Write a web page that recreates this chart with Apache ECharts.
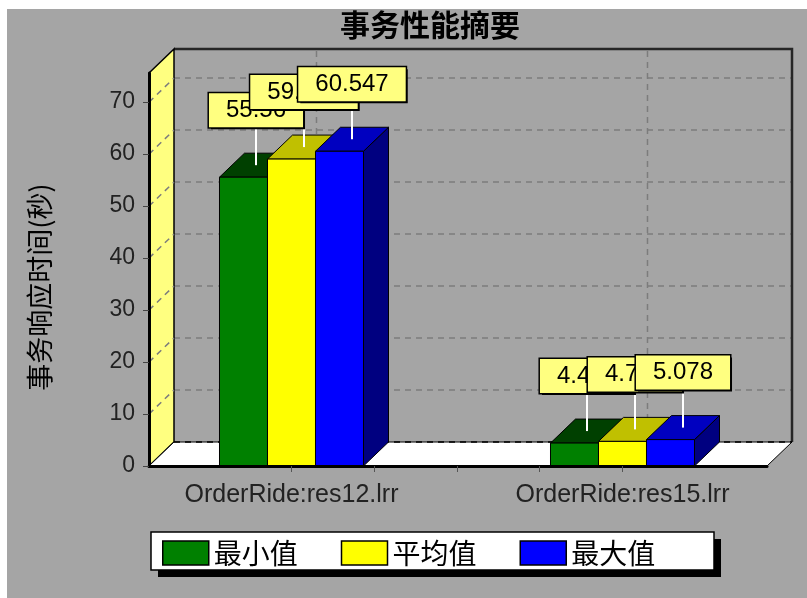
<!DOCTYPE html>
<html>
<head>
<meta charset="utf-8">
<script src="https://cdn.jsdelivr.net/npm/echarts@6/dist/echarts.min.js"></script>
<style>
  html, body { margin: 0; padding: 0; background: #ffffff; }
  #chart { width: 807px; height: 598px; }
</style>
</head>
<body>
<div id="chart"></div>
<script>
// Transaction summary data (seconds)
const categories = ['OrderRide:res12.lrr', 'OrderRide:res15.lrr'];
const minValues = [55.56, 4.412];
const avgValues = [59.043, 4.735];
const maxValues = [60.547, 5.078];
const seriesNames = ['最小值', '平均值', '最大值'];
const yTickValues = [0, 10, 20, 30, 40, 50, 60, 70];
const xTickValues = [0, 0.25, 0.5, 0.75, 1];

// 3D look: depth offset of the back plane, bar width in px
const DEPTH_X = 25;
const DEPTH_Y = -24;
const BAR_W = 48;
const X_MIN = -0.4305;
const X_MAX = 1.4366;
const Y_MAX = 75.6;

const BG = '#a5a5a5';
const WALL = '#ffff80';
const GRID_DASH = '#7c7c7c';

// legend box
const LEGEND_BOX = { x: 151, y: 532, width: 563, height: 38, shadow: 7 };

const faceColors = [
  { front: '#008000', top: '#004000', side: '#003000' },
  { front: '#ffff00', top: '#c0c000', side: '#808000' },
  { front: '#0000ff', top: '#0000c0', side: '#000080' }
];

const valueSets = [minValues, avgValues, maxValues];

function barRenderer(k) {
  return function (params, api) {
    const base = api.coord([api.value(0), 0]);
    const top = api.coord([api.value(0), api.value(1)]);
    const x0 = base[0] + (k - 1.5) * BAR_W;
    const x1 = x0 + BAR_W;
    const yb = base[1];
    const yt = top[1];
    const dx = DEPTH_X, dy = DEPTH_Y;
    const col = faceColors[k];
    const edge = { stroke: '#000', lineWidth: 1 };
    const cx = (x0 + x1) / 2 + dx / 2;
    const cy = yt + dy / 2;
    const boxBottom = cy - 38;
    const text = String(api.value(1));
    const labelFont = { fontSize: 24, fontFamily: '"Liberation Sans", Arial, sans-serif', lineHeight: 24 };
    return {
      type: 'group',
      children: [
        { type: 'polygon', shape: { points: [[x1, yt], [x1 + dx, yt + dy], [x1 + dx, yb + dy], [x1, yb]] },
          style: Object.assign({ fill: col.side }, edge) },
        { type: 'polygon', shape: { points: [[x0, yt], [x1, yt], [x1 + dx, yt + dy], [x0 + dx, yt + dy]] },
          style: Object.assign({ fill: col.top }, edge) },
        { type: 'rect', shape: { x: x0, y: yt, width: BAR_W, height: yb - yt },
          style: Object.assign({ fill: col.front }, edge) },
        { type: 'line', z2: 50, shape: { x1: cx, y1: cy, x2: cx, y2: boxBottom },
          style: { stroke: '#ffffff', lineWidth: 2 } },
        { type: 'text', z2: 60 + k * 2,
          style: Object.assign({ text: text, x: cx + 2, y: boxBottom + 2, align: 'center', verticalAlign: 'bottom',
            fill: 'rgba(0,0,0,0)', backgroundColor: '#000', padding: [5, 17, 5, 17] }, labelFont) },
        { type: 'text', z2: 61 + k * 2,
          style: Object.assign({ text: text, x: cx, y: boxBottom, align: 'center', verticalAlign: 'bottom',
            fill: '#000', backgroundColor: WALL, borderColor: '#000', borderWidth: 1.5,
            padding: [5, 17, 5, 17] }, labelFont) }
      ]
    };
  };
}

// walls, floor and dashed grid of the 3D box
function frameRenderer(params, api) {
  const f = (x, v) => api.coord([x, v]);
  const b = (x, v) => { const p = api.coord([x, v]); return [p[0] + DEPTH_X, p[1] + DEPTH_Y]; };
  const dash = { stroke: GRID_DASH, lineWidth: 1.5, lineDash: [6, 5] };
  const children = [];

  yTickValues.slice(1).forEach(v => {
    const p = b(X_MIN, v), q = b(X_MAX, v);
    children.push({ type: 'line', shape: { x1: p[0], y1: p[1], x2: q[0], y2: q[1] }, style: dash });
  });
  categories.forEach((c, i) => {
    const p = b(i, 0), q = b(i, Y_MAX);
    children.push({ type: 'line', shape: { x1: p[0], y1: p[1], x2: q[0], y2: q[1] }, style: dash });
  });

  // back wall outline (top and right)
  const bl = b(X_MIN, Y_MAX), br = b(X_MAX, Y_MAX), br0 = b(X_MAX, 0);
  children.push({ type: 'polyline', shape: { points: [bl, br, br0] },
    style: { stroke: '#262626', lineWidth: 2.5, fill: null } });

  // left wall
  children.push({ type: 'polygon',
    shape: { points: [f(X_MIN, Y_MAX), b(X_MIN, Y_MAX), b(X_MIN, 0), f(X_MIN, 0)] },
    style: { fill: WALL, stroke: '#000', lineWidth: 1.5 } });
  yTickValues.slice(1).forEach(v => {
    const p = f(X_MIN, v), q = b(X_MIN, v);
    children.push({ type: 'line', shape: { x1: p[0], y1: p[1], x2: q[0], y2: q[1] }, style: dash });
  });

  // floor
  children.push({ type: 'polygon',
    shape: { points: [f(X_MIN, 0), f(X_MAX, 0), b(X_MAX, 0), b(X_MIN, 0)] },
    style: { fill: '#ffffff', stroke: '#000', lineWidth: 1 } });
  const fb0 = b(X_MIN, 0), fb1 = b(X_MAX, 0);
  children.push({ type: 'line', shape: { x1: fb0[0], y1: fb0[1], x2: fb1[0], y2: fb1[1] },
    style: { stroke: '#000', lineWidth: 1.5, lineDash: [6, 5] } });

  return { type: 'group', children: children };
}

const chart = echarts.init(document.getElementById('chart'), null, { renderer: 'canvas' });

const series = [{
  type: 'custom',
  name: 'frame',
  z: 1,
  silent: true,
  clip: false,
  data: [[0, 0]],
  renderItem: frameRenderer
}];

seriesNames.forEach((name, k) => {
  series.push({
    type: 'custom',
    name: name,
    z: 2,
    clip: false,
    itemStyle: { color: faceColors[k].front },
    encode: { x: 0, y: 1 },
    data: valueSets[k].map((v, i) => [i, v]),
    renderItem: barRenderer(k)
  });
});

chart.setOption({
  backgroundColor: '#ffffff',
  animation: false,
  title: {
    text: '事务性能摘要',
    left: 425,
    top: 5,
    textAlign: 'center',
    textStyle: { fontSize: 30, fontWeight: 'bold', fontFamily: '"Noto Sans CJK SC"', color: '#000' }
  },
  graphic: [
    { type: 'rect', z: -10, silent: true, shape: { x: 7, y: 9, width: 800, height: 589 }, style: { fill: BG } },
    { type: 'rect', z: -9, silent: true,
      shape: { x: LEGEND_BOX.x + LEGEND_BOX.shadow, y: LEGEND_BOX.y + LEGEND_BOX.shadow,
        width: LEGEND_BOX.width, height: LEGEND_BOX.height },
      style: { fill: '#000' } },
    { type: 'rect', z: -8, silent: true,
      shape: { x: LEGEND_BOX.x, y: LEGEND_BOX.y, width: LEGEND_BOX.width, height: LEGEND_BOX.height },
      style: { fill: '#ffffff', stroke: '#000', lineWidth: 1.5 } },
    { type: 'text', z: 10, x: 40, y: 287, rotation: Math.PI / 2, silent: true,
      style: { text: '事务响应时间(秒)', fontSize: 27, fontFamily: '"Noto Sans CJK SC"', fill: '#000',
        align: 'center', verticalAlign: 'middle' } }
  ],
  legend: {
    data: seriesNames,
    left: LEGEND_BOX.x,
    top: LEGEND_BOX.y,
    icon: 'rect',
    itemWidth: 46,
    itemHeight: 24,
    itemGap: 43,
    selectedMode: false,
    padding: [7, 61, 7, 11],
    itemStyle: { borderColor: '#000', borderWidth: 1.5 },
    textStyle: { fontSize: 28, lineHeight: 24, fontFamily: '"Noto Sans CJK SC"', color: '#000' }
  },
  grid: { left: 149, right: 40, top: 73, bottom: 132 },
  xAxis: {
    type: 'value',
    min: X_MIN,
    max: X_MAX,
    z: 5,
    axisLine: { show: true, onZero: false, lineStyle: { color: '#000', width: 3 } },
    axisTick: { show: true, customValues: xTickValues, length: 6, lineStyle: { color: '#555' } },
    axisLabel: {
      customValues: [0, 1],
      formatter: v => categories[Math.round(v)],
      fontSize: 25,
      fontFamily: '"Liberation Sans", Arial, sans-serif',
      color: '#222',
      margin: 17
    },
    splitLine: { show: false }
  },
  yAxis: {
    type: 'value',
    min: 0,
    max: Y_MAX,
    z: 5,
    axisLine: { show: true, onZero: false, lineStyle: { color: '#000', width: 3 } },
    axisTick: { show: true, customValues: yTickValues, length: 6, lineStyle: { color: '#444' } },
    axisLabel: {
      customValues: yTickValues,
      fontSize: 23,
      fontFamily: '"Liberation Sans", Arial, sans-serif',
      color: '#222',
      margin: 14
    },
    splitLine: { show: false }
  },
  series: series
});
</script>
</body>
</html>
